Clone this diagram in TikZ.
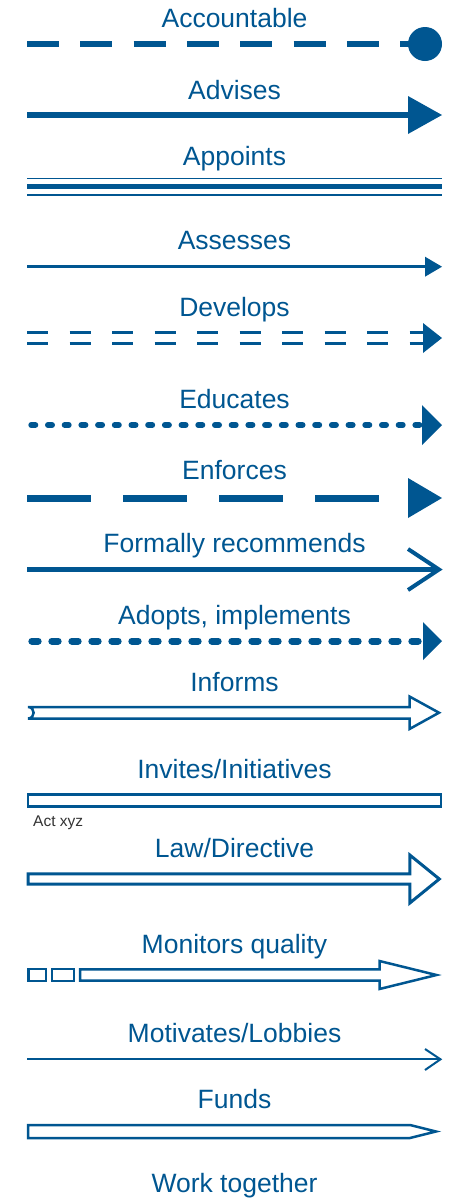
\documentclass[tikz,border=0pt]{standalone}
\usepackage{fontspec}
\setmainfont{Liberation Sans}
\definecolor{eublue}{RGB}{0,86,145}
\definecolor{notegray}{RGB}{51,51,51}
\tikzset{
  lbl/.style={anchor=base, text=eublue, font=\fontsize{26.5}{30}\selectfont, inner sep=0pt},
  ln/.style={draw=eublue, line cap=butt},
  outl/.style={draw=eublue, line width=2.5pt, fill=white, line join=miter},
  tipfill/.style={fill=eublue},
}
\begin{document}
\begin{tikzpicture}[x=1pt,y=-1pt]
\useasboundingbox (0,0) rectangle (450,1200);

% labels
\node[lbl] (t1)  at (234.5,27.8)  {Accountable};
\node[lbl] (t2)  at (234.5,99.5)  {Advises};
\node[lbl] (t3)  at (234.5,165.5) {Appoints};
\node[lbl] (t4)  at (234.5,249.8) {Assesses};
\node[lbl] (t5)  at (234.5,316.5) {Develops};
\node[lbl] (t6)  at (234.5,408.8) {Educates};
\node[lbl] (t7)  at (234.5,479.8) {Enforces};
\node[lbl] (t8)  at (234.5,552.2) {Formally recommends};
\node[lbl] (t9)  at (234.5,624.5) {Adopts, implements};
\node[lbl] (t10) at (234.5,691.2) {Informs};
\node[lbl] (t11) at (234.5,778.2) {Invites/Initiatives};
\node[lbl] (t12) at (234.5,857.2) {Law/Directive};
\node[lbl] (t13) at (234.5,953.8) {Monitors quality};
\node[lbl] (t14) at (234.5,1042.2){Motivates/Lobbies};
\node[lbl] (t15) at (234.5,1108.8){Funds};
\node[lbl] (t16) at (234.5,1192.2){Work together};

% 1 Accountable
\coordinate (a1) at (27,44); \coordinate (b1) at (425,44);
\draw[ln, line width=6pt, dash pattern=on 32pt off 21.3pt] (a1) -- (b1);
\fill[eublue] (b1) circle[radius=17];

% 2 Advises
\coordinate (a2) at (27,115); \coordinate (b2) at (442,115);
\draw[ln, line width=6.5pt] (a2) -- ([xshift=-30pt]b2);
\fill[tipfill] (b2) -- ++(-34,-19) -- ++(0,38) -- cycle;

% 3 Appoints
\coordinate (a3) at (27,186.7); \coordinate (b3) at (442,186.7);
\draw[ln, line width=4.7pt] (a3) -- (b3);
\draw[ln, line width=1.8pt] ([yshift=8.3pt]a3) -- ([yshift=8.3pt]b3);
\draw[ln, line width=1.8pt] ([yshift=-8.3pt]a3) -- ([yshift=-8.3pt]b3);

% 4 Assesses
\coordinate (a4) at (27,266.7); \coordinate (b4) at (442,266.7);
\draw[ln, line width=2.5pt] (a4) -- ([xshift=-15pt]b4);
\fill[tipfill] (b4) -- ++(-17,-10) -- ++(0,20) -- cycle;

% 5 Develops
\coordinate (a5) at (27,338); \coordinate (b5) at (442,338);
\draw[ln, line width=2.5pt, dash pattern=on 21pt off 21.5pt] ([yshift=5.5pt]a5) -- ([yshift=5.5pt,xshift=-16pt]b5);
\draw[ln, line width=2.5pt, dash pattern=on 21pt off 21.5pt] ([yshift=-5.5pt]a5) -- ([yshift=-5.5pt,xshift=-16pt]b5);
\fill[tipfill] (b5) -- ++(-19,-15) -- ++(0,30) -- cycle;

% 6 Educates
\coordinate (a6) at (31.3,425); \coordinate (b6) at (442,425);
\draw[ln, line width=6pt, line cap=round, dash pattern=on 4pt off 12.7pt] (a6) -- ([xshift=-22pt]b6);
\fill[tipfill] (b6) -- ++(-20,-20) -- ++(0,40) -- cycle;

% 7 Enforces
\coordinate (a7) at (27,498); \coordinate (b7) at (442,498);
\draw[ln, line width=7pt, dash pattern=on 64pt off 32pt] (a7) -- ([xshift=-63pt]b7);
\fill[tipfill] (b7) -- ++(-34,-20) -- ++(0,40) -- cycle;

% 8 Formally recommends
\coordinate (a8) at (27,569.5); \coordinate (b8) at (439,569.5);
\draw[ln, line width=5pt] (a8) -- (b8);
\draw[ln, line width=4pt, line join=miter] ([xshift=-31pt,yshift=20.5pt]b8) -- (b8) -- ([xshift=-31pt,yshift=-20.5pt]b8);

% 9 Adopts, implements
\coordinate (a9) at (31.85,641); \coordinate (b9) at (442,641);
\draw[ln, line width=7pt, line cap=round, dash pattern=on 6.3pt off 13.7pt] (a9) -- ([xshift=-22pt]b9);
\fill[tipfill] (b9) -- ++(-19,-19) -- ++(0,38) -- cycle;

% 10 Informs
\draw[outl] (28,707) -- (409.5,707) -- (409.5,696.5) -- (439,712.7) -- (409.5,729) -- (409.5,718.5) -- (28,718.5)
  .. controls (35.5,718.5) and (35.5,707) .. (28,707) -- cycle;

% 11 Invites/Initiatives
\draw[outl] (28,794.5) rectangle (441,806.5);
\node[anchor=base west, inner sep=0pt, text=notegray, font=\fontsize{15.5}{17}\selectfont] (n11) at (33,826.3) {Act xyz};

% 12 Law/Directive
\draw[outl, line width=3pt] (28.2,873.8) -- (409.8,873.8) -- (409.8,855) -- (439.3,879) -- (409.8,903) -- (409.8,884.2) -- (28.2,884.2) -- cycle;

% 13 Monitors quality
\draw[outl] (28.5,969) rectangle (45.8,981);
\draw[outl] (52,969) rectangle (73.8,981);
\draw[outl] (80.2,969.3) -- (379.5,969.3) -- (379.5,961) -- (436.5,975) -- (379.5,989) -- (379.5,980.7) -- (80.2,980.7) -- cycle;

% 14 Motivates/Lobbies
\coordinate (a14) at (27,1059.3); \coordinate (b14) at (440.5,1059.3);
\draw[ln, line width=2pt] (a14) -- (b14);
\draw[ln, line width=2pt, line join=miter] ([xshift=-15.5pt,yshift=10.3pt]b14) -- (b14) -- ([xshift=-15.5pt,yshift=-10.7pt]b14);

% 15 Funds
\draw[outl] (28,1125) -- (410,1125) -- (436,1131.5) -- (410,1138) -- (28,1138) -- cycle;

\end{tikzpicture}
\end{document}
